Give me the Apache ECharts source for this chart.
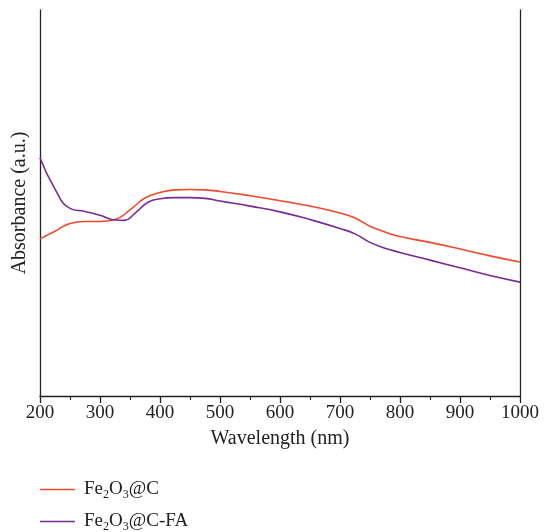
<!DOCTYPE html>
<html><head><meta charset="utf-8">
<script src="https://cdn.jsdelivr.net/npm/echarts@6/dist/echarts.min.js"></script>
<style>html,body{margin:0;padding:0;background:#fff}#c{width:544px;height:532px}</style>
</head><body><div id="c"></div>
<script>
const seriesNames = ['Fe2O3@C', 'Fe2O3@C-FA'];
const wlC = [200,225,250,275,300,325,350,375,400,425,450,475,500,550,600,650,700,725,750,775,800,850,900,950,1000];
const absC = [0.407,0.427,0.447,0.452,0.452,0.457,0.482,0.513,0.527,0.534,0.535,0.534,0.530,0.519,0.506,0.492,0.474,0.461,0.440,0.425,0.413,0.398,0.381,0.363,0.347];
const wlFA = [200,225,250,275,300,325,340,360,380,400,425,450,475,500,550,600,650,700,725,750,775,800,850,900,950,1000];
const absFA = [0.617,0.536,0.486,0.478,0.468,0.456,0.455,0.476,0.502,0.511,0.514,0.514,0.512,0.505,0.492,0.477,0.457,0.434,0.420,0.398,0.383,0.372,0.352,0.332,0.312,0.295];
const xTicks = [200,300,400,500,600,700,800,900,1000];

const font = '"Liberation Serif", "DejaVu Serif", serif';
const chart = echarts.init(document.getElementById('c'));
function pairs(xs, ys){ return xs.map((x,i)=>[x, ys[i]]); }
function fmtName(n){ return n.replace('Fe2O3', 'Fe{sub|2}O{sub|3}'); }
const legendText = {fontFamily: font, fontSize: 19, color: '#222', padding: [0,0,0,4],
  rich: {sub: {fontFamily: font, fontSize: 12, color: '#222', verticalAlign: 'bottom', padding: [10,0,0,0]}}};
function mkLegend(name, top){
  return {left: 40, top: top, padding: 0, itemWidth: 35, itemHeight: 1.6, icon: 'rect',
    data: [name], formatter: fmtName, textStyle: legendText};
}
chart.setOption({
  animation: false,
  grid: {left: 40, right: 24, top: 10, bottom: 136},
  xAxis: {
    type: 'value', min: xTicks[0], max: xTicks[xTicks.length-1], interval: 100,
    name: 'Wavelength (nm)', nameLocation: 'middle', nameGap: 33,
    nameTextStyle: {fontFamily: font, fontSize: 20, color: '#222'},
    axisLine: {lineStyle: {color: '#222', width: 1.3}},
    axisTick: {show: true, inside: false, length: 7, lineStyle: {color: '#222', width: 1.3}},
    minorTick: {show: true, splitNumber: 2, length: 4, lineStyle: {color: '#222', width: 1.1}},
    axisLabel: {fontFamily: font, fontSize: 19, color: '#222', margin: 8, formatter: v => String(v)},
    splitLine: {show: false}
  },
  yAxis: [{
    type: 'value', min: 0, max: 1, position: 'left',
    name: 'Absorbance (a.u.)', nameLocation: 'middle', nameGap: 10, nameRotate: 90,
    nameTextStyle: {fontFamily: font, fontSize: 20, color: '#222'},
    axisLine: {show: true, lineStyle: {color: '#222', width: 1.3}},
    axisTick: {show: false}, axisLabel: {show: false}, splitLine: {show: false}
  },{
    type: 'value', min: 0, max: 1, position: 'right',
    axisLine: {show: true, lineStyle: {color: '#222', width: 1.3}},
    axisTick: {show: false}, axisLabel: {show: false}, splitLine: {show: false}
  }],
  legend: [mkLegend(seriesNames[0], 480), mkLegend(seriesNames[1], 512)],
  series: [{
    name: seriesNames[0], type: 'line', smooth: 0.5, symbol: 'none',
    data: pairs(wlC, absC), lineStyle: {color: '#f2482b', width: 1.6}, itemStyle: {color: '#f2482b'}
  },{
    name: seriesNames[1], type: 'line', smooth: 0.5, symbol: 'none',
    data: pairs(wlFA, absFA), lineStyle: {color: '#7a2a95', width: 1.6}, itemStyle: {color: '#7a2a95'}
  }]
});
</script></body></html>
